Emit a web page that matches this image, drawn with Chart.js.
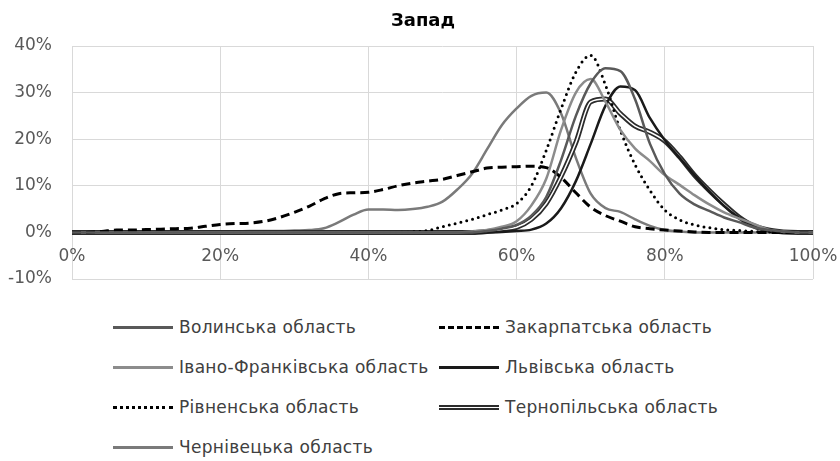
<!DOCTYPE html>
<html>
<head>
<meta charset="utf-8">
<script src="https://cdn.jsdelivr.net/npm/chart.js@4.4.0/dist/chart.umd.min.js"></script>
<style>
  body { margin: 0; background: #fff; }
  #wrap { position: relative; width: 840px; height: 461px; }
  #title { position: absolute; left: 323px; top: 9px; width: 200px; text-align: center;
    font: bold 18px "DejaVu Sans"; color: #000; }
  #legend { position: absolute; left: 0; top: 307px; width: 840px; font: 17px "DejaVu Sans";
    letter-spacing: 0.3px; color: #404040; }
  .item { position: absolute; height: 40px; display: flex; align-items: center; white-space: nowrap; }
  .item .ln { display: inline-block; width: 60px; height: 0; margin-right: 6px; }
</style>
</head>
<body>
<div id="wrap">
  <canvas id="myChart" width="840" height="300"></canvas>
  <div id="title">Запад</div>
  <div id="legend"></div>
</div>
<script>
var xValues = [0, 2, 4, 6, 8, 10, 12, 14, 16, 18, 20, 22, 24, 26, 28, 30, 32, 34, 36, 38, 40,
  42, 44, 46, 48, 50, 52, 54, 56, 58, 60, 62, 64, 66, 68, 70, 72, 74, 76, 78, 80,
  82, 84, 86, 88, 90, 92, 94, 96, 98, 100];

var seriesNames = ["Волинська область", "Закарпатська область", "Івано-Франківська область",
  "Львівська область", "Рівненська область", "Тернопільська область", "Чернівецька область"];

var volyn = [0, 0, 0, 0, 0, 0, 0, 0, 0, 0, 0, 0, 0, 0, 0, 0, 0, 0, 0, 0, 0, 0, 0, 0, 0, 0, 0, 0,
  0.3, 0.8, 1.6, 3.6, 7.6, 15.5, 25.0, 32.0, 35.2, 34.6, 28.5, 19.0, 12.5, 8.3, 6.0, 4.6, 3.2,
  2.2, 1.1, 0.5, 0.2, 0, 0];
var zakarpattia = [0, 0, 0.2, 0.5, 0.5, 0.6, 0.7, 0.8, 0.9, 1.3, 1.7, 1.9, 2.0, 2.4, 3.2, 4.3,
  5.6, 7.2, 8.3, 8.5, 8.6, 9.2, 10.0, 10.6, 11.0, 11.4, 12.2, 13.0, 13.8, 14.0, 14.1, 14.2, 13.9,
  11.8, 8.5, 5.4, 3.6, 2.4, 1.2, 0.8, 0.5, 0.3, 0.1, 0, 0, 0, 0, 0, 0, 0, 0];
var ivanoFrankivsk = [0, 0, 0, 0, 0, 0, 0, 0, 0, 0, 0, 0, 0, 0, 0, 0, 0, 0, 0, 0, 0, 0, 0, 0, 0,
  0, 0, 0.2, 0.5, 1.2, 2.4, 5.8, 11.5, 22.0, 30.0, 32.9, 28.0, 22.0, 18.0, 15.3, 12.3, 10.2, 8.0,
  6.0, 4.3, 3.0, 1.8, 0.6, 0.2, 0, 0];
var lviv = [0, 0, 0, 0, 0, 0, 0, 0, 0, 0, 0, 0, 0, 0, 0, 0, 0, 0, 0, 0, 0, 0, 0, 0, 0, 0, 0, 0, 0,
  0.1, 0.3, 0.6, 1.9, 5.2, 11.0, 19.0, 27.2, 31.3, 30.5, 24.5, 19.8, 16.0, 12.3, 8.8, 5.7, 3.2,
  1.4, 0.5, 0.1, 0, 0];
var rivne = [0, 0, 0, 0, 0, 0, 0, 0, 0, 0, 0, 0, 0, 0, 0, 0, 0, 0, 0, 0, 0, 0, 0,
  0.1, 0.4, 1.2, 2.0, 2.8, 3.8, 4.8, 6.2, 10.0, 17.6, 26.5, 34.4, 38.0, 31.6, 21.9, 14.5, 9.0,
  4.8, 2.7, 1.6, 1.0, 0.6, 0.4, 0.2, 0.1, 0, 0, 0];
var ternopil = [0, 0, 0, 0, 0, 0, 0, 0, 0, 0, 0, 0, 0, 0, 0, 0, 0, 0, 0, 0, 0, 0, 0, 0, 0, 0, 0, 0,
  0.2, 0.6, 1.1, 2.8, 6.2, 12.0, 19.3, 28.0, 28.6, 25.5, 22.8, 21.5, 19.6, 16.2, 12.3, 9.0, 6.0,
  3.3, 1.4, 0.5, 0.1, 0, 0];
var chernivtsi = [0, 0, 0, 0, 0, 0, 0, 0, 0, 0, 0.2, 0.2, 0.3, 0.3, 0.3, 0.4, 0.5, 0.9, 2.2, 3.8,
  4.9, 4.9, 4.8, 5.0, 5.5, 6.6, 9.2, 12.6, 17.8, 23.0, 26.6, 29.3, 30.0, 25.5, 16.0, 8.3, 5.2,
  4.4, 2.8, 1.4, 0.5, 0.2, 0, 0, 0, 0, 0, 0, 0, 0, 0];

var yTicks = [-10, 0, 10, 20, 30, 40];
var xTicks = [0, 20, 40, 60, 80, 100];

var seriesValues = [volyn, zakarpattia, ivanoFrankivsk, lviv, rivne, ternopil, chernivtsi];

// line look for each region (also used by the html legend)
var looks = [
  { color: "#595959", width: 2.5, css: "3px solid #595959" },
  { color: "#000000", width: 3, dash: [9, 5], css: "3px dashed #000" },
  { color: "#8c8c8c", width: 2.5, css: "3px solid #8c8c8c" },
  { color: "#1a1a1a", width: 2.5, css: "3px solid #1a1a1a" },
  { color: "#000000", width: 3, dash: [0, 6], round: true, css: "3px dotted #000" },
  { color: "#2b2b2b", width: 5, double: true, css: "5px double #2b2b2b" },
  { color: "#7a7a7a", width: 2.5, css: "3px solid #7a7a7a" }
];

function toPoints(arr) {
  return arr.map(function (v, i) { return { x: xValues[i], y: v }; });
}

var datasets = [];
seriesNames.forEach(function (name, i) {
  var lk = looks[i];
  if (lk.double) {
    // white core first so it is painted on top of the dark outline
    datasets.push({
      label: name + " (core)",
      data: toPoints(seriesValues[i]),
      borderColor: "#ffffff",
      borderWidth: 1.5,
      pointRadius: 0,
      cubicInterpolationMode: "monotone"
    });
  }
  datasets.push({
    label: name,
    data: toPoints(seriesValues[i]),
    borderColor: lk.color,
    borderWidth: lk.width,
    borderDash: lk.dash || [],
    borderCapStyle: lk.round ? "round" : "butt",
    pointRadius: 0,
    cubicInterpolationMode: "monotone"
  });
});

Chart.defaults.font.family = "DejaVu Sans";

new Chart("myChart", {
  type: "line",
  data: { datasets: datasets },
  options: {
    responsive: false,
    animation: false,
    layout: { padding: { left: 0, right: 27, top: 46, bottom: 21 } },
    plugins: {
      legend: { display: false },
      tooltip: { enabled: false },
      title: { display: false }
    },
    scales: {
      x: {
        type: "linear",
        min: xTicks[0],
        max: xTicks[xTicks.length - 1],
        position: { y: 0 },
        grid: { color: "#d9d9d9", drawTicks: false },
        border: { display: false },
        ticks: {
          stepSize: 20,
          padding: 14,
          color: "#595959",
          font: { size: 17 },
          callback: function (v) { return v + "%"; }
        },
        // axis sits on the 0% line, so it should not take room at the bottom
        afterFit: function (scale) {
          scale.height = 0;
          scale.paddingLeft = 0;
          scale.paddingRight = 0;
        }
      },
      y: {
        min: yTicks[0],
        max: yTicks[yTicks.length - 1],
        grid: { color: "#d9d9d9", drawTicks: false },
        border: { display: false },
        ticks: {
          stepSize: 10,
          padding: 20,
          color: "#595959",
          font: { size: 17 },
          callback: function (v) { return v + "%"; }
        },
        afterFit: function (scale) {
          scale.width = 72;
          scale.paddingTop = 0;
          scale.paddingBottom = 0;
        }
      }
    }
  }
});

// legend in two columns below the chart
var legend = document.getElementById("legend");
seriesNames.forEach(function (name, i) {
  var item = document.createElement("div");
  item.className = "item";
  item.style.left = (i % 2 ? 439 : 113) + "px";
  item.style.top = (Math.floor(i / 2) * 40) + "px";
  var ln = document.createElement("span");
  ln.className = "ln";
  ln.style.borderTop = looks[i].css;
  item.appendChild(ln);
  item.appendChild(document.createTextNode(name));
  legend.appendChild(item);
});
</script>
</body>
</html>
